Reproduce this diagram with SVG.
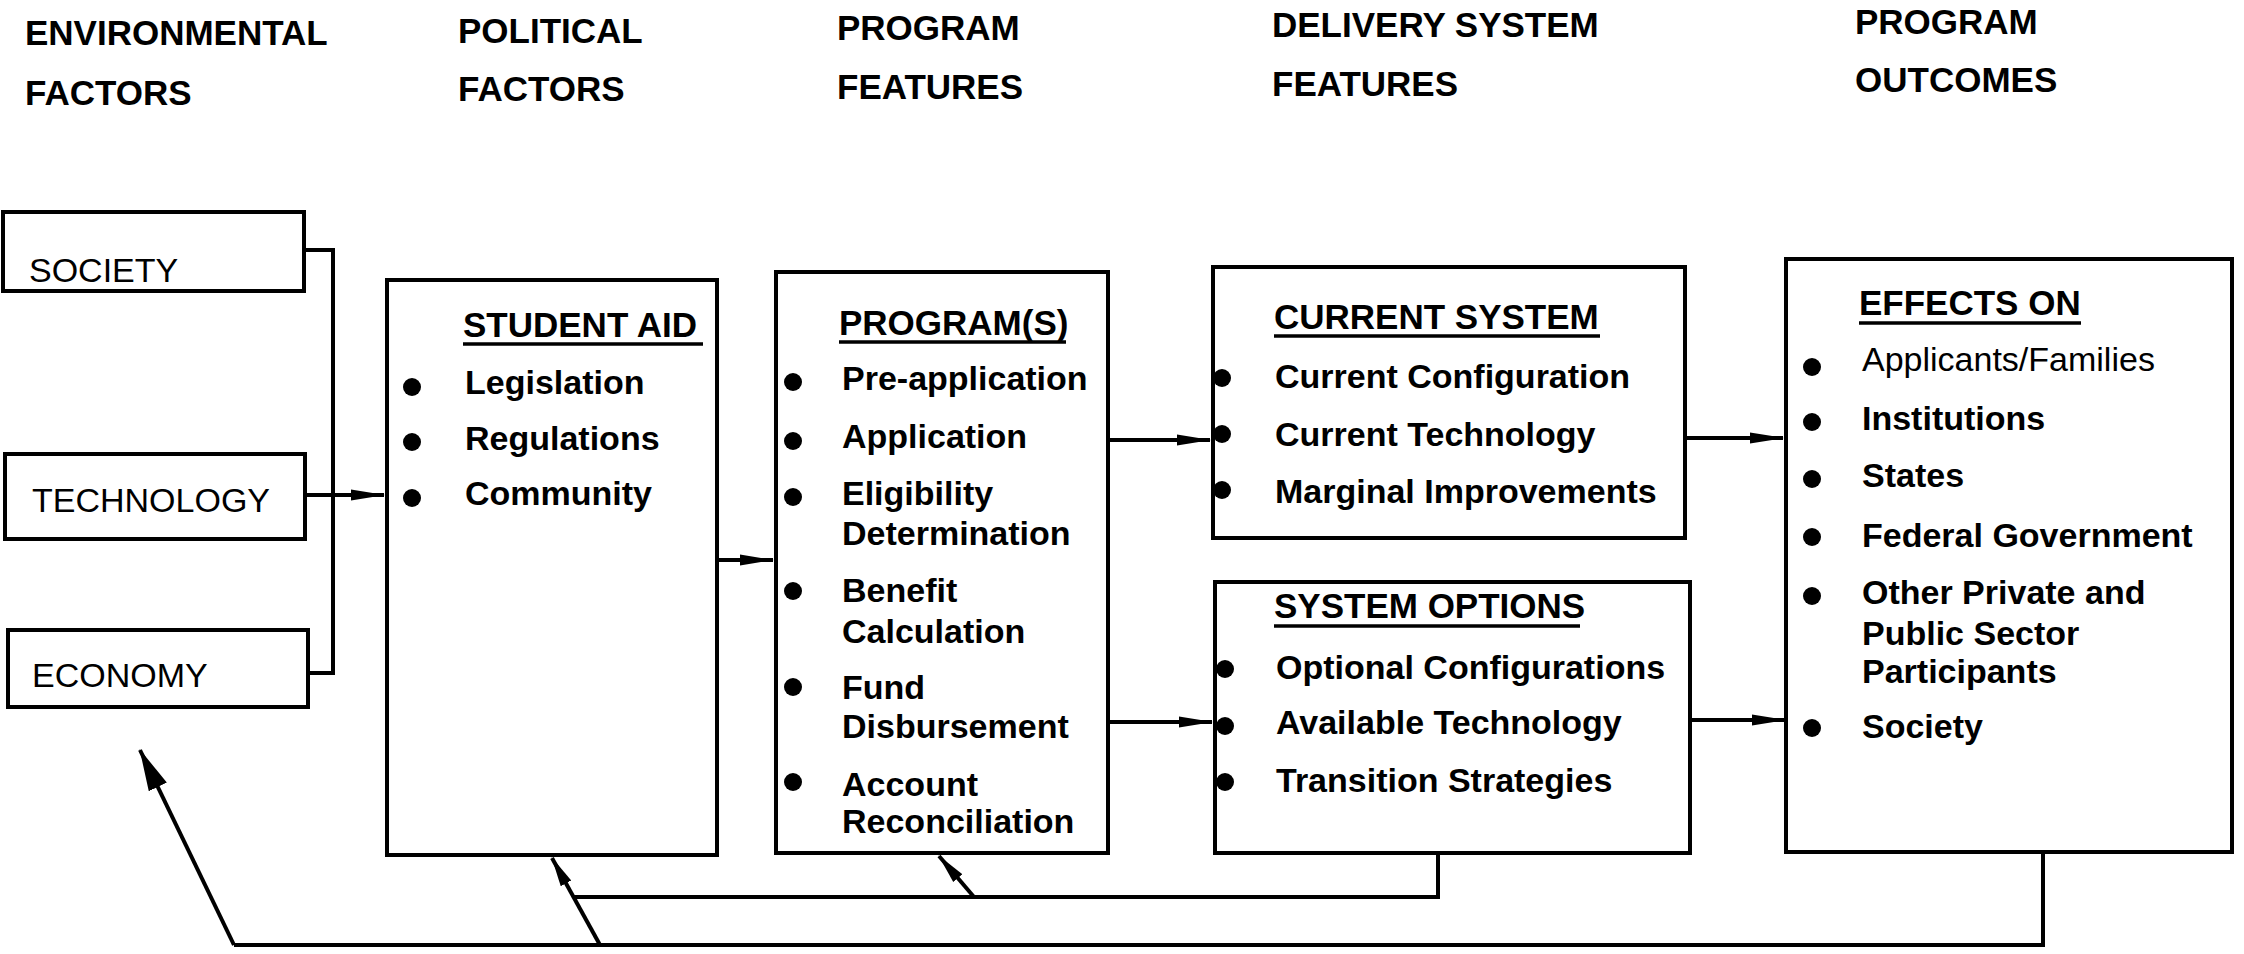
<svg xmlns="http://www.w3.org/2000/svg" width="2244" height="954" viewBox="0 0 2244 954">
<style>
.bg{fill:#ffffff}
.box{fill:#ffffff;stroke:#000;stroke-width:4}
.hd{font-family:"Liberation Sans",Arial,sans-serif;font-weight:bold;font-size:35px;fill:#000}
.lbl{font-family:"Liberation Sans",Arial,sans-serif;font-size:34px;fill:#000}
.ttl{font-family:"Liberation Sans",Arial,sans-serif;font-weight:bold;font-size:35px;fill:#000}
.it{font-family:"Liberation Sans",Arial,sans-serif;font-weight:bold;font-size:34px;fill:#000}
.itn{font-family:"Liberation Sans",Arial,sans-serif;font-size:34px;fill:#000}
.ul{stroke:#000;stroke-width:3.5}
.dot{fill:#000}
.cn{fill:none;stroke:#000;stroke-width:4}
</style>
<defs>
<marker id="ah" markerUnits="userSpaceOnUse" viewBox="0 0 34 16" markerWidth="34" markerHeight="16" refX="33" refY="8" orient="auto">
<path d="M0,2.5 L34,8 L0,13.5 Z" fill="#000"/>
</marker>
<marker id="ahm" markerUnits="userSpaceOnUse" viewBox="0 0 30 16" markerWidth="30" markerHeight="16" refX="29" refY="8" orient="auto">
<path d="M0,2 L30,8 L0,14 Z" fill="#000"/>
</marker>
<marker id="ahl" markerUnits="userSpaceOnUse" viewBox="0 0 42 22" markerWidth="42" markerHeight="22" refX="41" refY="11" orient="auto">
<path d="M0,1 L42,11 L0,21 Z" fill="#000"/>
</marker>
</defs>
<rect class="bg" x="0" y="0" width="2244" height="954"/>

<g id="headers">
<text class="hd" x="25" y="45">ENVIRONMENTAL</text>
<text class="hd" x="25" y="105">FACTORS</text>
<text class="hd" x="458" y="43">POLITICAL</text>
<text class="hd" x="458" y="101">FACTORS</text>
<text class="hd" x="837" y="40">PROGRAM</text>
<text class="hd" x="837" y="99">FEATURES</text>
<text class="hd" x="1272" y="37">DELIVERY SYSTEM</text>
<text class="hd" x="1272" y="96">FEATURES</text>
<text class="hd" x="1855" y="34">PROGRAM</text>
<text class="hd" x="1855" y="92">OUTCOMES</text>
</g>

<g id="connectors">
<polyline class="cn" points="304,250 333,250 333,673 308,673"/>
<line class="cn" x1="305" y1="495" x2="384" y2="495" marker-end="url(#ah)"/>
<line class="cn" x1="717" y1="560" x2="773" y2="560" marker-end="url(#ah)"/>
<line class="cn" x1="1108" y1="440" x2="1210" y2="440" marker-end="url(#ah)"/>
<line class="cn" x1="1108" y1="722" x2="1212" y2="722" marker-end="url(#ah)"/>
<line class="cn" x1="1685" y1="438" x2="1783" y2="438" marker-end="url(#ah)"/>
<line class="cn" x1="1690" y1="720" x2="1785" y2="720" marker-end="url(#ah)"/>
<polyline class="cn" points="1438,853 1438,897 573,897"/>
<line class="cn" x1="974" y1="897" x2="939" y2="856" marker-end="url(#ahm)"/>
<polyline class="cn" points="2043,852 2043,945 234,945"/>
<line class="cn" x1="600" y1="945" x2="552" y2="858" marker-end="url(#ahm)"/>
<line class="cn" x1="234" y1="945" x2="140" y2="750" marker-end="url(#ahl)"/>
</g>

<g id="society">
<rect class="box" x="3" y="212" width="301" height="79"/>
<text class="lbl" x="29" y="282">SOCIETY</text>
</g>
<g id="technology">
<rect class="box" x="5" y="454" width="300" height="85"/>
<text class="lbl" x="32" y="512">TECHNOLOGY</text>
</g>
<g id="economy">
<rect class="box" x="8" y="630" width="300" height="77"/>
<text class="lbl" x="32" y="687">ECONOMY</text>
</g>

<g id="student-aid">
<rect class="box" x="387" y="280" width="330" height="575"/>
<text class="ttl" x="463" y="337">STUDENT AID</text>
<line class="ul" x1="463" y1="344" x2="703" y2="344"/>
<circle class="dot" cx="412" cy="387" r="9"/>
<circle class="dot" cx="412" cy="442" r="9"/>
<circle class="dot" cx="412" cy="498" r="9"/>
<text class="it" x="465" y="394">Legislation</text>
<text class="it" x="465" y="450">Regulations</text>
<text class="it" x="465" y="505">Community</text>
</g>

<g id="programs">
<rect class="box" x="776" y="272" width="332" height="581"/>
<text class="ttl" x="839" y="335">PROGRAM(S)</text>
<line class="ul" x1="839" y1="342" x2="1066" y2="342"/>
<circle class="dot" cx="793" cy="382" r="9"/>
<circle class="dot" cx="793" cy="441" r="9"/>
<circle class="dot" cx="793" cy="497" r="9"/>
<circle class="dot" cx="793" cy="591" r="9"/>
<circle class="dot" cx="793" cy="687" r="9"/>
<circle class="dot" cx="793" cy="782" r="9"/>
<text class="it" x="842" y="390">Pre-application</text>
<text class="it" x="842" y="448">Application</text>
<text class="it" x="842" y="505">Eligibility</text>
<text class="it" x="842" y="545">Determination</text>
<text class="it" x="842" y="602">Benefit</text>
<text class="it" x="842" y="643">Calculation</text>
<text class="it" x="842" y="699">Fund</text>
<text class="it" x="842" y="738">Disbursement</text>
<text class="it" x="842" y="796">Account</text>
<text class="it" x="842" y="833">Reconciliation</text>
</g>

<g id="current-system">
<rect class="box" x="1213" y="267" width="472" height="271"/>
<text class="ttl" x="1274" y="329">CURRENT SYSTEM</text>
<line class="ul" x1="1274" y1="336" x2="1600" y2="336"/>
<circle class="dot" cx="1222" cy="378" r="9"/>
<circle class="dot" cx="1222" cy="434" r="9"/>
<circle class="dot" cx="1222" cy="490" r="9"/>
<text class="it" x="1275" y="388">Current Configuration</text>
<text class="it" x="1275" y="446">Current Technology</text>
<text class="it" x="1275" y="503">Marginal Improvements</text>
</g>

<g id="system-options">
<rect class="box" x="1215" y="582" width="475" height="271"/>
<text class="ttl" x="1274" y="618">SYSTEM OPTIONS</text>
<line class="ul" x1="1274" y1="626" x2="1580" y2="626"/>
<circle class="dot" cx="1225" cy="669" r="9"/>
<circle class="dot" cx="1225" cy="726" r="9"/>
<circle class="dot" cx="1225" cy="782" r="9"/>
<text class="it" x="1276" y="679">Optional Configurations</text>
<text class="it" x="1276" y="734">Available Technology</text>
<text class="it" x="1276" y="792">Transition Strategies</text>
</g>

<g id="effects-on">
<rect class="box" x="1786" y="259" width="446" height="593"/>
<text class="ttl" x="1859" y="315">EFFECTS ON</text>
<line class="ul" x1="1859" y1="323" x2="2081" y2="323"/>
<circle class="dot" cx="1812" cy="367" r="9"/>
<circle class="dot" cx="1812" cy="422" r="9"/>
<circle class="dot" cx="1812" cy="479" r="9"/>
<circle class="dot" cx="1812" cy="537" r="9"/>
<circle class="dot" cx="1812" cy="596" r="9"/>
<circle class="dot" cx="1812" cy="728" r="9"/>
<text class="itn" x="1862" y="371">Applicants/Families</text>
<text class="it" x="1862" y="430">Institutions</text>
<text class="it" x="1862" y="487">States</text>
<text class="it" x="1862" y="547">Federal Government</text>
<text class="it" x="1862" y="604">Other Private and</text>
<text class="it" x="1862" y="645">Public Sector</text>
<text class="it" x="1862" y="683">Participants</text>
<text class="it" x="1862" y="738">Society</text>
</g>
</svg>
